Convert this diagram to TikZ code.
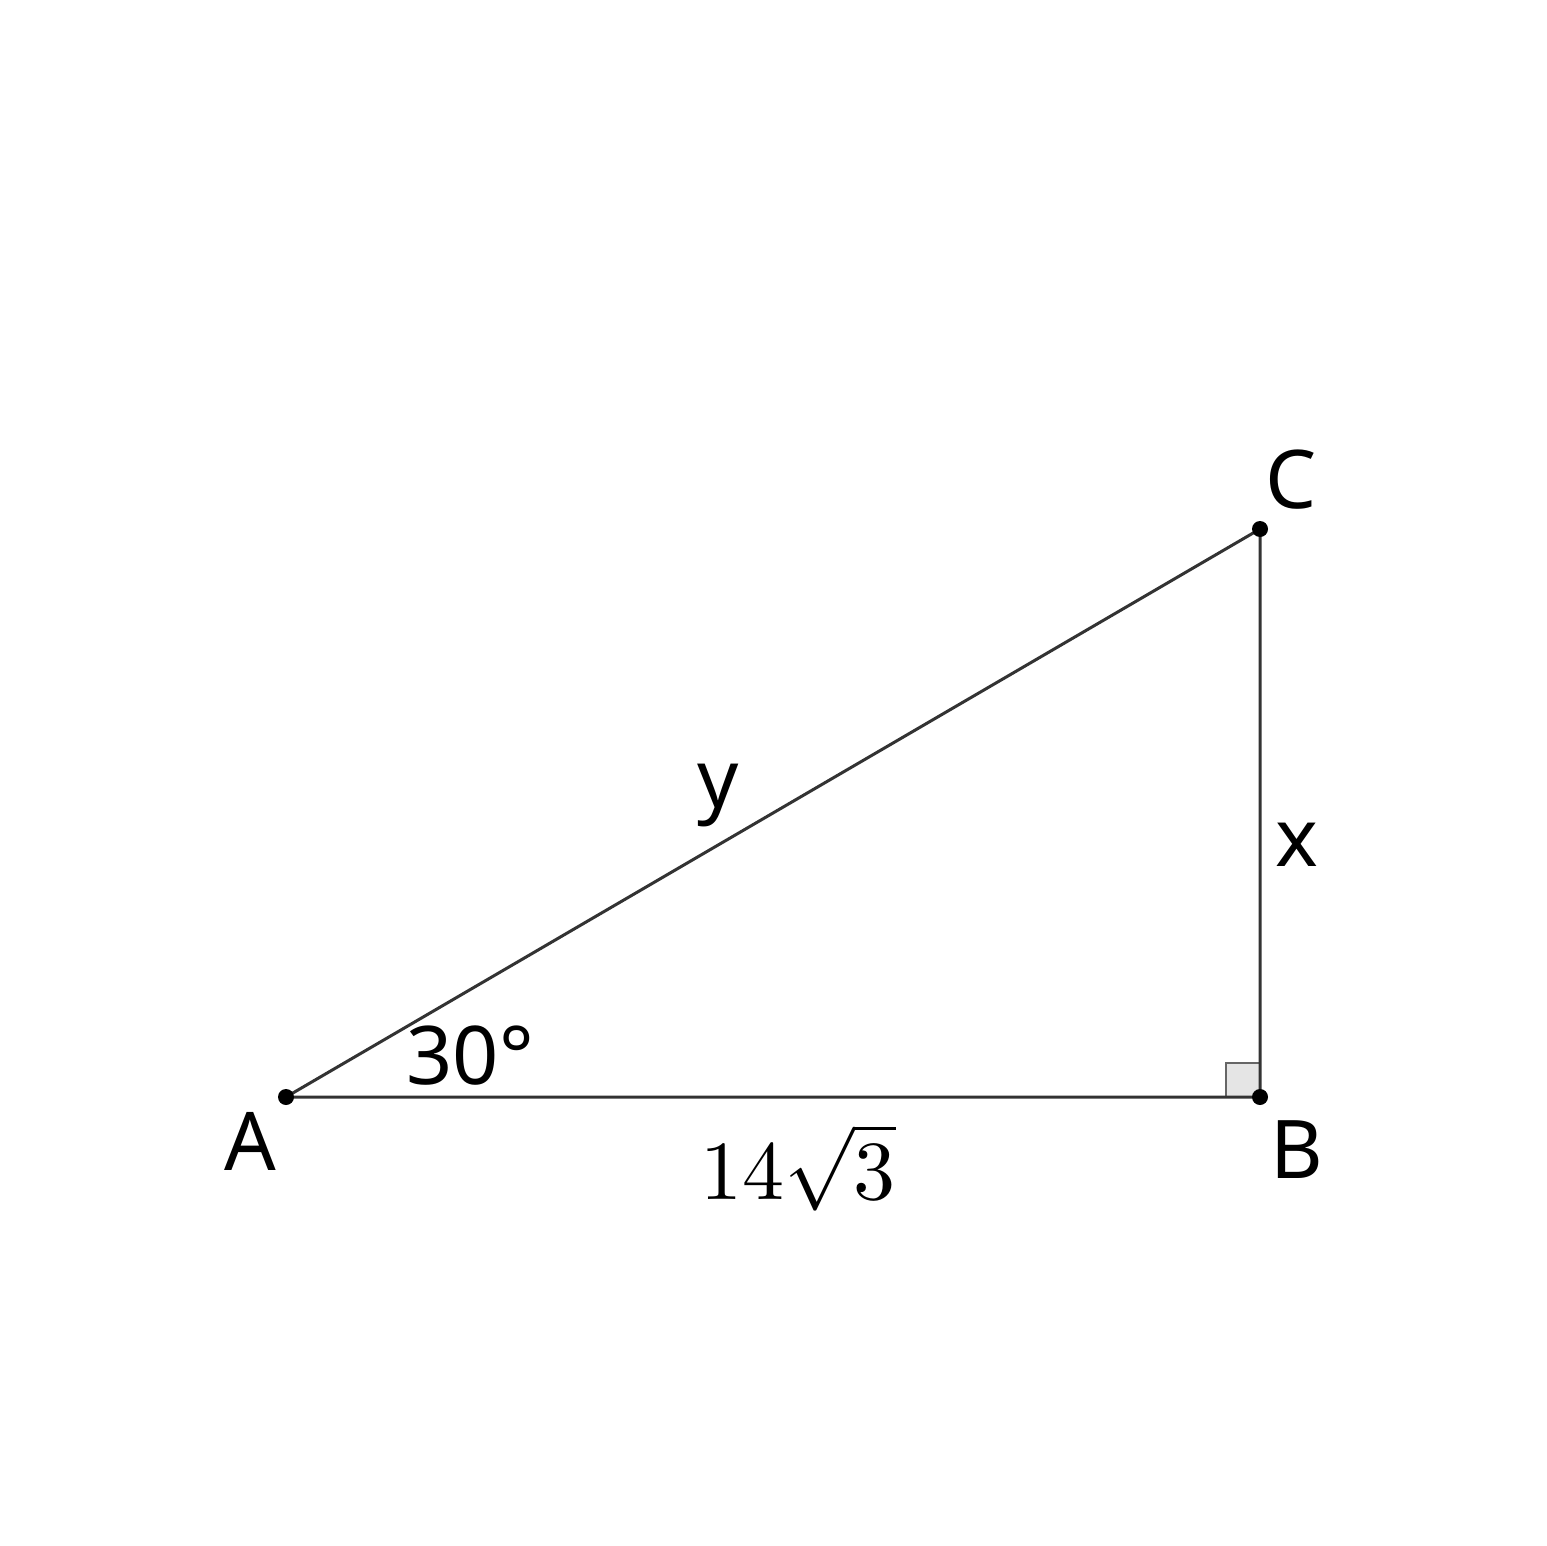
\documentclass[tikz,border=0pt]{standalone}
\usepackage{fontspec}
\setmainfont{Noto Sans}
\usepackage{unicode-math}
\setmathfont{Latin Modern Math}
\begin{document}
\begin{tikzpicture}[x=1pt,y=-1pt,
  edge/.style={draw=black!80,line width=3pt},
  dot/.style={circle,fill=black,inner sep=0pt,minimum size=16pt},
  lbl/.style={font=\fontsize{81}{96}\selectfont,inner sep=0pt}]
\useasboundingbox (0,0) rectangle (1546,1546);
\fill[white] (0,0) rectangle (1546,1546);
\coordinate (A) at (286,1097);
\coordinate (B) at (1260,1097);
\coordinate (C) at (1260,529);
\filldraw[fill=black!10,draw=black!60,line width=2.5pt] (1226,1097) rectangle (1260,1063);
\draw[edge] (A) -- (B) -- (C) -- cycle;
\node[dot] (dA) at (A) {};
\node[dot] (dB) at (B) {};
\node[dot] (dC) at (C) {};
\node[lbl] (lA) at (250,1141) {A};
\node[lbl] (lB) at (1297,1150) {B};
\node[lbl] (lC) at (1291,480) {C};
\node[lbl] (ly) at (718,796) {y};
\node[lbl] (lx) at (1297,845) {x};
\node[lbl] (la) at (470,1056) {30°};
\node[inner sep=0pt,font=\fontsize{84}{100}\selectfont] (lb) at (798,1167) {$14\sqrt{3}$};
\end{tikzpicture}
\end{document}
